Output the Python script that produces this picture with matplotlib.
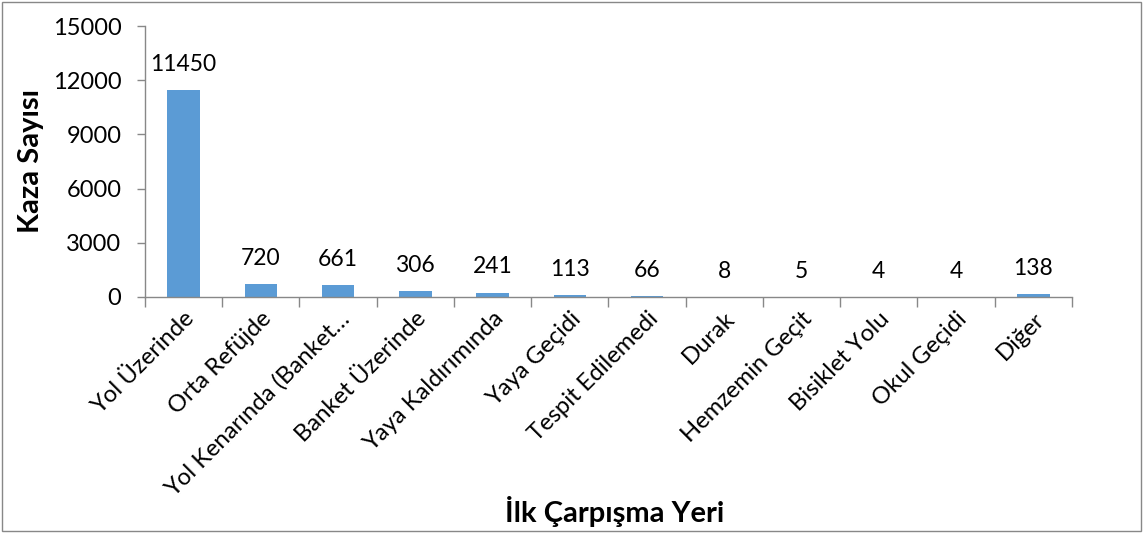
import matplotlib.pyplot as plt
from matplotlib.patches import Rectangle

# Veriler
kategoriler = [
    "Yol Üzerinde", "Orta Refüjde", "Yol Kenarında (Banket…",
    "Banket Üzerinde", "Yaya Kaldırımında", "Yaya Geçidi",
    "Tespit Edilemedi", "Durak", "Hemzemin Geçit", "Bisiklet Yolu",
    "Okul Geçidi", "Diğer",
]
kaza_sayisi = [11450, 720, 661, 306, 241, 113, 66, 8, 5, 4, 4, 138]
y_ticks = [0, 3000, 6000, 9000, 12000, 15000]

plt.rcParams["font.family"] = ["Lato", "DejaVu Sans"]

fig = plt.figure(figsize=(11.44, 5.33), dpi=100)
ax = fig.add_axes([0.1267, 0.4428, 0.8103, 0.5084])

x = list(range(len(kategoriler)))
ax.bar(x, kaza_sayisi, width=0.42, color="#5B9BD5", zorder=2)

for xi, v in zip(x, kaza_sayisi):
    ax.annotate(str(v), (xi, v), xytext=(0, 11), textcoords="offset points",
                ha="center", va="bottom", fontsize=16.5, color="black")

ax.set_xlim(-0.5, len(kategoriler) - 0.5)
ax.set_ylim(0, 15000)
ax.set_yticks(y_ticks)
ax.tick_params(axis="y", labelsize=17, length=6, width=1, color="#888888", pad=11)

# x ekseni: kategori sınırlarında tik işaretleri
ax.set_xticks([i - 0.5 for i in range(len(kategoriler) + 1)])
ax.set_xticklabels([])
ax.tick_params(axis="x", which="major", length=7, width=1, color="#888888")
ax.set_xticks(x, minor=True)
ax.set_xticklabels(kategoriler, minor=True, rotation=45, ha="right",
                   rotation_mode="anchor", fontsize=17.2)
ax.tick_params(axis="x", which="minor", length=0, pad=8)

for s in ["top", "right"]:
    ax.spines[s].set_visible(False)
for s in ["left", "bottom"]:
    ax.spines[s].set_color("#888888")
    ax.spines[s].set_linewidth(1)

ax.set_ylabel("Kaza Sayısı", fontsize=21, fontweight="bold", labelpad=6)
fig.text(0.5375, 0.04, "İlk Çarpışma Yeri", fontsize=21, fontweight="bold",
         ha="center", va="center")

# dış çerçeve
fig.patches.append(Rectangle((0.002, 0.004), 0.995, 0.992, transform=fig.transFigure,
                             fill=False, edgecolor="#888888", linewidth=1))

fig.savefig("out.png", dpi=100)
